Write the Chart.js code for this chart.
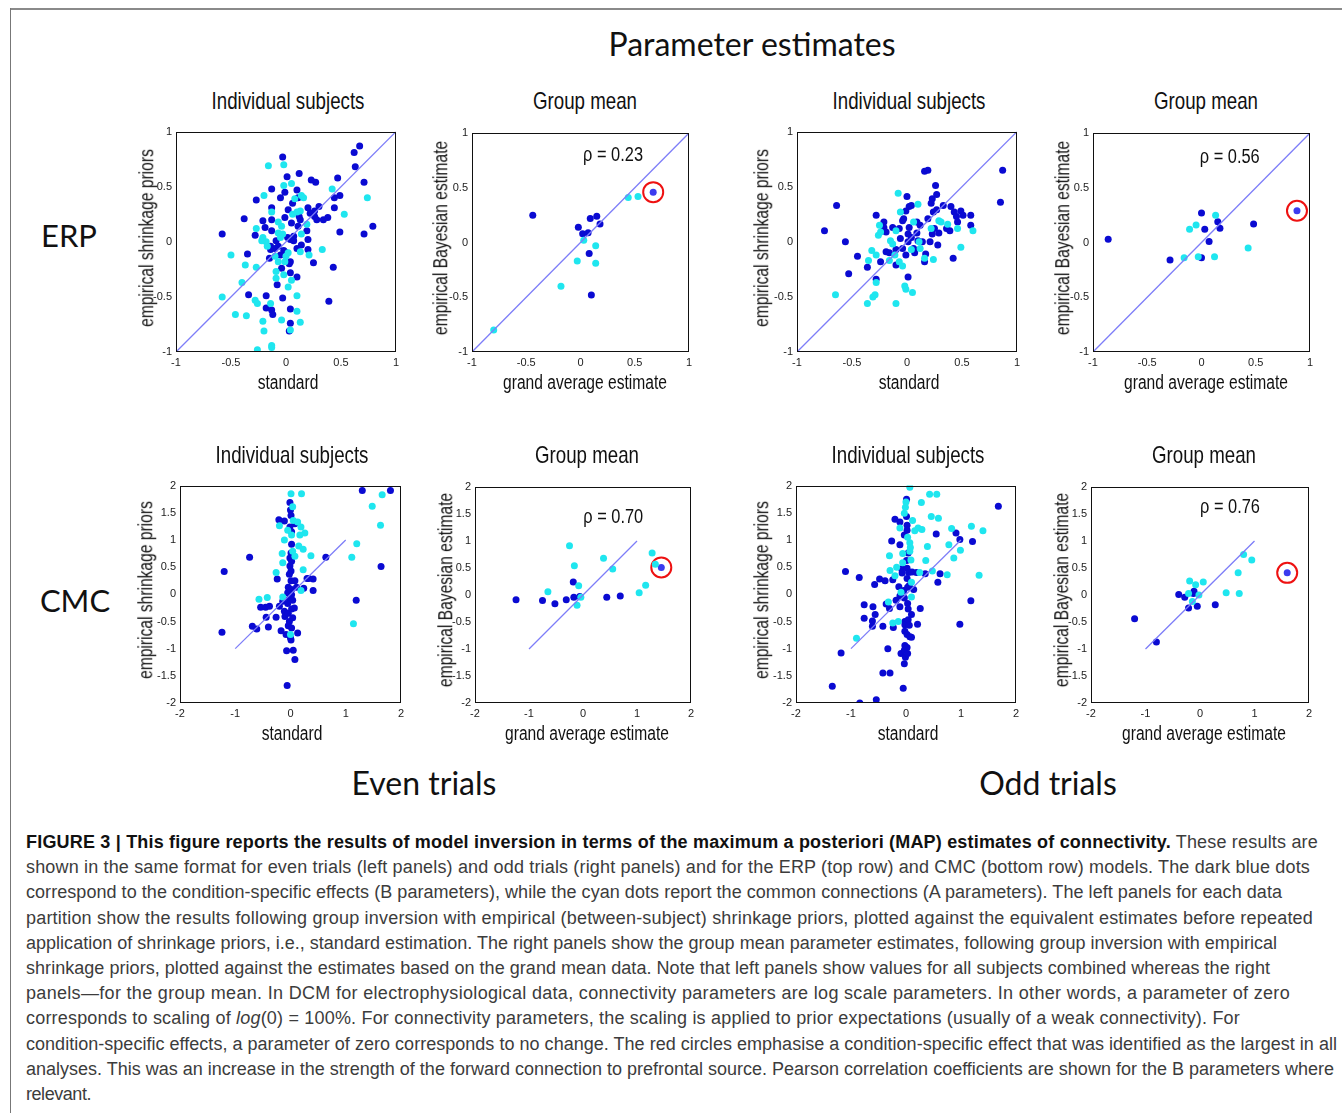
<!DOCTYPE html>
<html>
<head>
<meta charset="utf-8">
<title>Parameter estimates</title>
<script src="https://cdn.jsdelivr.net/npm/chart.js@4.4.1/dist/chart.umd.min.js"></script>
<style>
  html, body { margin: 0; padding: 0; background: #fff; }
  #fig { position: relative; width: 1342px; height: 1113px; overflow: hidden; }
  #fig canvas { position: absolute; }
  .frameTop { position: absolute; left: 10px; top: 8px; width: 1340px; height: 2px; background: #8a8a8a; }
  .frameLeft { position: absolute; left: 10px; top: 8px; width: 1px; height: 1110px; background: #777; }
  .big { position: absolute; font-family: Lato, "Open Sans", sans-serif; color: #111; white-space: nowrap; transform: translate(-50%, -50%); }
  .narrow { position: absolute; font-family: "Liberation Sans", Arial, sans-serif; color: #111; white-space: nowrap; line-height: 1; }
  #caption { position: absolute; left: 26px; top: 830px; font-family: "Liberation Sans", Arial, sans-serif; font-size: 18px; line-height: 25.2px; color: #3c3c3c; }
  #caption div { white-space: nowrap; width: max-content; }
  #caption b { color: #111; }
</style>
</head>
<body>
<div id="fig">
  <div class="frameTop"></div>
  <div class="frameLeft"></div>
</div>
<script>
// ---- data ----
// ERP, even trials, individual subjects: B (dark blue) and A (cyan) parameters
var erpEvenSubjB = [[-0.58,0.07],[-0.38,0.21],[-0.35,-0.11],[-0.27,0.38],[-0.28,0.06],[-0.34,-0.48],[-0.18,-0.60],[-0.18,-0.49],
  [-0.21,0.19],[-0.19,0.13],[-0.13,0.48],[-0.13,0.31],[-0.13,0.20],[-0.13,0.10],[-0.14,-0.07],[-0.15,-0.15],[-0.13,-0.62],
  [-0.12,-0.66],[-0.08,-0.39],[-0.09,0.01],[-0.05,0.40],[-0.03,0.77],[-0.01,0.45],[0.01,0.59],[-0.04,-0.24],[-0.03,-0.51],
  [0.04,-0.61],[0.04,-0.74],[0.03,-0.81],[0.12,0.62],[0.10,0.47],[0.11,0.40],[0.02,0.29],[0.05,0.17],[0.015,0.04],[0.04,0.02],
  [0.07,0.05],[0.07,0.01],[0.06,0.35],[-0.01,-0.09],[-0.02,-0.08],[0.04,-0.18],[0.04,-0.28],[0.10,-0.32],[0.12,0.23],[0.13,0.20],
  [0.10,-0.06],[0.19,0.10],[0.20,0.02],[0.20,-0.07],[0.25,-0.19],[0.23,0.56],[0.27,0.54],[0.20,0.31],[0.22,0.26],[0.26,0.23],
  [0.28,0.20],[0.26,0.28],[0.30,0.32],[0.34,0.20],[0.38,0.22],[0.39,-0.54],[0.43,-0.23],[0.44,0.40],[0.44,0.31],[0.47,0.58],
  [0.49,0.42],[0.49,0.09],[0.62,0.81],[0.63,0.68],[0.67,0.87],[0.71,0.54],[0.71,0.07],[0.79,0.14],[-0.05,-0.12],[-0.07,-0.04],
  [-0.10,-0.06],[-0.14,-0.04],[0.11,0.14],[0.14,-0.03],[-0.01,0.22],[0.03,-0.20]];
var erpEvenSubjA = [[-0.16,0.69],[-0.02,0.70],[-0.02,0.51],[0.05,0.53],[-0.20,0.42],[-0.27,0.12],[-0.50,-0.12],[-0.37,-0.21],
  [-0.27,-0.23],[-0.40,-0.37],[-0.58,-0.50],[-0.46,-0.66],[-0.36,-0.67],[-0.28,-0.53],[-0.26,-0.56],[-0.21,-0.72],[-0.20,-0.81],
  [-0.26,-0.98],[-0.13,-0.94],[-0.13,-0.96],[-0.14,-0.56],[-0.04,-0.71],[0.04,-0.80],[0.10,-0.63],[0.13,-0.73],[0.10,-0.49],
  [0.02,-0.41],[-0.09,-0.33],[-0.02,-0.30],[0.05,-0.35],[-0.07,-0.18],[-0.01,-0.18],[-0.09,-0.27],[0.13,-0.09],[0.21,-0.12],
  [0.33,-0.07],[-0.13,0.27],[-0.18,0.00],[-0.21,0.04],[-0.22,0.01],[-0.17,-0.04],[-0.07,0.18],[-0.04,0.14],[-0.07,0.08],
  [-0.03,0.07],[-0.05,0.04],[0.06,0.25],[0.08,0.39],[0.14,0.42],[0.16,0.40],[0.13,0.28],[0.10,0.27],[0.14,0.07],[0.19,0.16],
  [0.42,0.48],[0.53,0.25],[0.74,0.40],[0.00,-0.13],[0.02,-0.10],[-0.10,-0.13]];

// ERP, even trials, group mean
var erpEvenMeanB = [[-0.44,0.25],[-0.02,0.14],[0.02,0.08],[0.07,0.09],[0.09,0.22],[0.15,0.24],[0.18,0.17],[0.08,-0.10],[0.10,-0.48]];
var erpEvenMeanA = [[0.03,0.02],[0.14,-0.03],[0.14,-0.19],[-0.03,-0.17],[-0.18,-0.40],[-0.80,-0.80],[0.44,0.41],[0.53,0.42]];
var erpEvenMeanMarked = [[0.67,0.46]];

// ERP, odd trials, individual subjects
var erpOddSubjB = [[-0.75,0.10],[-0.64,0.33],[-0.56,0.00],[-0.53,-0.29],[-0.45,-0.13],[-0.28,0.24],[-0.36,-0.23],[-0.28,-0.34],
  [-0.21,0.18],[-0.21,0.13],[-0.24,-0.18],[-0.19,0.09],[-0.19,-0.09],[-0.13,0.13],[-0.10,-0.07],[-0.10,-0.21],[-0.06,0.03],
  [-0.04,0.19],[-0.03,0.21],[0.00,0.41],[-0.01,0.28],[0.02,0.32],[0.04,0.33],[0.02,0.13],[0.01,0.07],[0.04,0.04],[0.01,0.00],
  [-0.01,-0.12],[0.01,-0.32],[0.06,-0.06],[0.09,0.08],[0.10,0.01],[0.12,0.15],[0.14,0.00],[0.16,0.64],[0.19,0.65],[0.16,-0.18],
  [0.17,-0.11],[0.19,0.21],[0.22,0.35],[0.23,0.39],[0.24,0.27],[0.25,0.12],[0.26,0.51],[0.27,0.43],[0.27,0.29],[0.28,-0.03],
  [0.29,0.08],[0.23,0.07],[0.21,0.00],[0.33,0.33],[0.36,0.12],[0.39,0.10],[0.40,0.32],[0.42,-0.15],[0.43,0.27],[0.45,0.23],
  [0.46,0.18],[0.49,0.28],[0.51,0.24],[0.58,0.24],[0.58,0.15],[0.87,0.65],[0.85,0.36],[-0.07,0.12],[-0.04,-0.06],[-0.16,-0.10],
  [0.07,-0.10],[0.09,0.18]];
var erpOddSubjA = [[-0.08,0.44],[-0.06,0.27],[0.10,0.34],[-0.65,-0.48],[-0.36,-0.56],[-0.31,-0.50],[-0.29,-0.48],[-0.28,-0.37],
  [-0.10,-0.56],[-0.02,-0.40],[-0.01,-0.43],[0.05,-0.46],[-0.35,-0.17],[-0.32,-0.08],[-0.28,-0.12],[-0.26,0.06],[-0.25,0.15],
  [-0.24,0.09],[-0.16,-0.17],[-0.13,-0.02],[-0.11,-0.12],[-0.07,-0.18],[-0.04,-0.22],[0.04,-0.07],[0.06,0.18],[0.16,-0.15],
  [0.24,-0.16],[0.22,0.12],[0.29,0.19],[0.31,0.18],[0.37,0.16],[0.46,0.12],[0.49,-0.05],[0.60,0.10],[-0.15,0.01],[-0.10,0.10],
  [0.12,-0.06],[0.11,0.00]];

// ERP, odd trials, group mean
var erpOddMeanB = [[-0.86,0.03],[-0.29,-0.16],[0.00,-0.14],[0.00,0.27],[0.03,0.12],[0.07,0.01],[0.15,0.19],[0.17,0.13],[0.48,0.17]];
var erpOddMeanA = [[-0.11,0.12],[-0.05,0.16],[-0.16,-0.14],[-0.03,-0.13],[0.13,0.25],[0.12,-0.13],[0.43,-0.05]];
var erpOddMeanMarked = [[0.88,0.29]];

// CMC, even trials, individual subjects
var cmcEvenSubjB = [[-1.20,0.42],[-1.24,-0.70],[-0.74,0.68],[-0.69,-0.59],[-0.61,-0.64],[-0.54,-0.24],[-0.45,-0.24],[-0.38,-0.22],
  [-0.44,-0.42],[-0.40,-0.60],[-0.24,0.28],[-0.26,-0.42],[-0.20,-0.22],[-0.17,-0.67],[-0.21,1.37],[-0.11,1.35],[-0.14,-0.13],
  [-0.11,-0.31],[-0.10,-0.41],[-0.08,-0.74],[-0.07,-1.04],[-0.06,-1.68],[-0.01,1.69],[0.00,1.55],[0.01,1.45],[-0.01,1.24],
  [0.02,1.15],[0.02,0.92],[0.01,0.76],[-0.01,0.67],[0.02,0.61],[-0.01,0.52],[0.01,0.43],[-0.02,0.37],[0.01,0.25],[-0.04,0.13],
  [0.02,0.09],[-0.05,0.03],[0.02,-0.01],[-0.02,-0.08],[0.04,-0.11],[-0.05,-0.17],[0.02,-0.27],[-0.04,-0.35],[0.04,-0.43],
  [-0.02,-0.50],[-0.04,-0.58],[0.02,-0.62],[0.00,-0.80],[0.01,-0.84],[0.05,-1.03],[0.08,-1.20],[0.08,1.30],[0.08,0.25],
  [0.11,0.13],[0.13,-0.71],[0.07,-0.25],[0.24,0.11],[0.30,0.29],[0.33,0.29],[0.41,0.28],[0.41,0.07],[0.64,0.68],[1.19,-0.11],
  [1.30,1.91],[1.64,0.51],[1.81,1.91]];
var cmcEvenSubjA = [[-0.57,-0.09],[-0.42,-0.06],[-0.26,0.40],[-0.20,1.26],[-0.15,0.75],[-0.14,0.58],[-0.14,-0.05],[-0.11,1.00],
  [-0.05,1.18],[0.01,1.85],[0.04,1.61],[0.05,1.36],[0.02,1.09],[0.04,0.79],[0.00,-0.74],[0.20,1.85],[0.13,1.33],[0.19,1.24],
  [0.26,1.13],[0.17,1.09],[0.15,0.89],[0.23,0.83],[0.37,0.71],[0.23,0.45],[0.19,0.07],[0.08,0.70],[1.11,0.68],[1.20,0.93],
  [1.14,-0.54],[1.48,1.62],[1.66,1.83],[1.63,1.27]];

// CMC, even trials, group mean
var cmcEvenMeanB = [[-1.24,-0.09],[-0.75,-0.10],[-0.52,-0.16],[-0.31,-0.09],[-0.18,0.24],[-0.17,-0.04],[-0.06,-0.03],[0.44,-0.04],[0.69,-0.02]];
var cmcEvenMeanA = [[-0.25,0.91],[-0.16,0.54],[-0.65,0.06],[-0.08,0.17],[-0.04,-0.04],[-0.11,-0.19],[0.38,0.68],[0.55,0.48],
  [1.04,0.04],[1.16,0.18],[1.28,0.78],[1.34,0.57]];
var cmcEvenMeanMarked = [[1.45,0.51]];

// CMC, odd trials, individual subjects
var cmcOddSubjB = [[-1.34,-1.69],[-1.18,-1.08],[-1.10,0.42],[-0.85,0.31],[-0.84,-2.00],[-0.76,-0.19],[-0.76,-0.44],[-0.61,-0.49],
  [-0.61,-0.59],[-0.60,-0.23],[-0.57,0.18],[-0.56,-0.37],[-0.54,-1.94],[-0.48,0.28],[-0.38,0.25],[-0.42,-0.59],[-0.42,-1.45],
  [-0.36,-0.18],[-0.30,-0.26],[-0.33,-1.00],[-0.29,-1.45],[-0.26,0.98],[-0.24,0.27],[-0.23,-0.61],[-0.20,1.38],[-0.18,-0.11],
  [-0.13,0.14],[-0.11,1.33],[-0.11,0.91],[-0.11,-0.03],[-0.11,-0.23],[-0.09,-1.09],[-0.08,0.47],[-0.07,0.39],[-0.05,-1.73],
  [-0.04,0.07],[-0.03,-0.07],[-0.03,1.09],[-0.02,-0.50],[-0.02,-0.56],[-0.02,-0.68],[-0.02,-0.94],[-0.03,-1.03],[-0.03,-1.28],
  [-0.01,-1.16],[0.01,1.75],[0.01,1.43],[0.02,1.27],[0.02,1.18],[0.01,0.62],[0.02,0.48],[0.02,0.29],[0.03,0.13],[0.03,-0.17],
  [0.04,-0.27],[0.04,-0.47],[0.02,-0.74],[0.02,-0.98],[0.03,-1.09],[0.04,0.76],[0.05,0.40],[0.06,0.16],[0.06,-0.57],[0.07,-0.78],
  [0.10,-0.37],[0.10,-0.79],[0.11,0.41],[0.14,0.09],[0.19,0.40],[0.21,-0.55],[0.26,-0.26],[0.35,0.38],[0.55,1.11],[0.58,0.22],
  [0.62,0.38],[0.91,1.13],[0.98,1.01],[0.98,-0.55],[1.18,-0.12],[1.21,0.97],[1.68,1.62]];
var cmcOddSubjA = [[-0.90,-0.81],[-0.30,0.71],[-0.29,0.44],[-0.24,-0.53],[-0.32,-0.14],[-0.20,0.34],[-0.17,0.50],[-0.14,-0.50],
  [-0.11,1.22],[-0.09,0.04],[-0.06,0.75],[-0.06,0.58],[-0.03,1.49],[-0.01,1.60],[0.00,1.70],[0.03,1.05],[0.07,1.97],[0.07,0.95],
  [0.07,0.79],[0.09,0.63],[0.10,0.22],[0.10,-0.05],[0.08,0.86],[0.12,1.36],[0.16,1.17],[0.22,1.22],[0.25,0.40],[0.28,1.69],
  [0.29,1.19],[0.36,0.62],[0.39,0.88],[0.43,1.84],[0.46,1.43],[0.48,0.43],[0.56,1.84],[0.59,1.40],[0.75,0.36],[0.78,0.91],
  [0.83,1.21],[0.87,0.67],[0.99,0.81],[1.19,1.25],[1.33,0.35],[1.40,1.17]];

// CMC, odd trials, group mean
var cmcOddMeanB = [[-1.20,-0.44],[-0.80,-0.87],[-0.39,0.01],[-0.28,-0.04],[-0.21,-0.24],[-0.12,0.03],[-0.11,0.07],[-0.05,-0.21],[0.28,-0.18]];
var cmcOddMeanA = [[-0.19,0.26],[-0.21,0.03],[-0.08,0.19],[0.06,0.24],[-0.02,0.00],[-0.14,-0.12],[0.48,0.04],[0.70,0.41],
  [0.72,0.03],[0.80,0.75],[0.95,0.65]];
var cmcOddMeanMarked = [[1.60,0.41]];

var identityLine = [[-1,-1],[1,1]];
var erpTicks = [-1, -0.5, 0, 0.5, 1];
var cmcXTicks = [-2, -1, 0, 1, 2];
var cmcYTicks = [-2, -1.5, -1, -0.5, 0, 0.5, 1, 1.5, 2];
var rhoLabels = ['ρ = 0.23', 'ρ = 0.56', 'ρ = 0.70', 'ρ = 0.76'];

// ---- colours / fonts ----
var DARK = '#0a0ad2', CYAN = '#1fe6ef', MARKED = '#3b3bef', DIAG = 'rgb(125,125,248)';
var SANS = '"Liberation Sans", Arial, sans-serif';
var SQUEEZE = 0.8;   // Arial Narrow look, obtained by squeezing Liberation Sans

// ---- layout: plot box in page pixels ----
var panels = [
  { L:176, T:127, R:399, B:352, lim:1, xt:erpTicks, yt:erpTicks, b:erpEvenSubjB, a:erpEvenSubjA, yGap:29, title:'Individual subjects', xTitle:'standard', yTitle:'empirical shrinkage priors' },
  { L:472, T:127, R:697, B:352, lim:1, xt:erpTicks, yt:erpTicks, b:erpEvenMeanB, a:erpEvenMeanA, m:erpEvenMeanMarked, yGap:31, title:'Group mean', xTitle:'grand average estimate', yTitle:'empirical Bayesian estimate', rho:0, rx:0.30, ry:0.80 },
  { L:797, T:127, R:1020, B:352, lim:1, xt:erpTicks, yt:erpTicks, b:erpOddSubjB, a:erpOddSubjA, yGap:35, title:'Individual subjects', xTitle:'standard', yTitle:'empirical shrinkage priors' },
  { L:1093, T:127, R:1318, B:352, lim:1, xt:erpTicks, yt:erpTicks, b:erpOddMeanB, a:erpOddMeanA, m:erpOddMeanMarked, yGap:30, title:'Group mean', xTitle:'grand average estimate', yTitle:'empirical Bayesian estimate', rho:1, rx:0.26, ry:0.78 },
  { L:180, T:481, R:404, B:703, lim:2, xt:cmcXTicks, yt:cmcYTicks, b:cmcEvenSubjB, a:cmcEvenSubjA, yGap:34, title:'Individual subjects', xTitle:'standard', yTitle:'empirical shrinkage priors' },
  { L:475, T:481, R:699, B:703, lim:2, xt:cmcXTicks, yt:cmcYTicks, b:cmcEvenMeanB, a:cmcEvenMeanA, m:cmcEvenMeanMarked, yGap:29, title:'Group mean', xTitle:'grand average estimate', yTitle:'empirical Bayesian estimate', rho:2, rx:0.56, ry:1.43 },
  { L:796, T:481, R:1019, B:703, lim:2, xt:cmcXTicks, yt:cmcYTicks, b:cmcOddSubjB, a:cmcOddSubjA, yGap:34, title:'Individual subjects', xTitle:'standard', yTitle:'empirical shrinkage priors' },
  { L:1091, T:481, R:1317, B:703, lim:2, xt:cmcXTicks, yt:cmcYTicks, b:cmcOddMeanB, a:cmcOddMeanA, m:cmcOddMeanMarked, yGap:29, title:'Group mean', xTitle:'grand average estimate', yTitle:'empirical Bayesian estimate', rho:3, rx:0.55, ry:1.63 }
];

// right edge of each caption line in the reference
var captionEnds = [1318, 1310, 1282, 1313, 1277, 1270, 1290, 1240, 1337, 1334, 91];

var PADL = 40, PADT = 6, PADR = 4, PADB = 20;

function pts(arr) { return arr.map(function (p) { return { x: p[0], y: p[1] }; }); }

// box round the axes + the rho annotation
var framePlugin = {
  id: 'frame',
  afterDraw: function (chart, args, opts) {
    var ctx = chart.ctx, a = chart.chartArea;
    ctx.save();
    ctx.strokeStyle = '#111';
    ctx.lineWidth = 1;
    ctx.strokeRect(Math.round(a.left) + 0.5, Math.round(a.top) + 0.5, Math.round(a.right - a.left) - 1, Math.round(a.bottom - a.top) - 1);
    if (opts.text) {
      ctx.fillStyle = '#111';
      ctx.font = '20.5px ' + SANS;
      ctx.textAlign = 'center';
      ctx.textBaseline = 'middle';
      ctx.translate(chart.scales.x.getPixelForValue(opts.x), chart.scales.y.getPixelForValue(opts.y));
      ctx.scale(SQUEEZE, 1);
      ctx.fillText(opts.text, 0, 0);
    }
    ctx.restore();
  }
};

function axis(lim, ticks, isY) {
  return {
    type: 'linear', min: -lim, max: lim,
    grid: { display: false, drawTicks: false },
    border: { display: false },
    afterBuildTicks: function (s) { s.ticks = ticks.map(function (v) { return { value: v }; }); },
    afterFit: function (s) { if (isY) { s.width = PADL; } else { s.height = PADB; } },
    ticks: { color: '#222', font: { family: SANS, size: 11 }, padding: 4, maxRotation: 0, autoSkip: false,
             callback: function (v) { return String(v); } },
    title: { display: false }
  };
}

function narrowText(text, x, y, size, rotate) {
  var d = document.createElement('div');
  d.className = 'narrow';
  d.textContent = text;
  d.style.left = x + 'px'; d.style.top = y + 'px';
  d.style.fontSize = size + 'px';
  d.style.transform = 'translate(-50%, -50%)' + (rotate ? ' rotate(-90deg)' : '') + ' scaleX(' + SQUEEZE + ')';
  document.getElementById('fig').appendChild(d);
}

function makePanel(p) {
  var fig = document.getElementById('fig');
  var w = (p.R - p.L) + PADL + PADR, h = (p.B - p.T) + PADT + PADB;
  var c = document.createElement('canvas');
  c.width = w; c.height = h;
  c.style.left = (p.L - PADL) + 'px';
  c.style.top = (p.T - PADT) + 'px';
  c.style.width = w + 'px'; c.style.height = h + 'px';
  fig.appendChild(c);

  var cx = (p.L + p.R) / 2, cy = (p.T + p.B) / 2;
  narrowText(p.title, cx, p.T - 25, 23.4, false);
  narrowText(p.xTitle, cx, p.B + 31, 19.5, false);
  narrowText(p.yTitle, p.L - p.yGap, cy - 2, 19.5, true);

  var datasets = [
    { data: pts(identityLine), showLine: true, borderColor: DIAG, borderWidth: 1.3, pointRadius: 0 },
    { data: pts(p.a), backgroundColor: CYAN, borderWidth: 0, pointRadius: 3.5 },
    { data: pts(p.b), backgroundColor: DARK, borderWidth: 0, pointRadius: 3.5 }
  ];
  if (p.m) {
    datasets.push({ data: pts(p.m), backgroundColor: MARKED, borderWidth: 0, pointRadius: 3.5 });
    datasets.push({ data: pts(p.m), backgroundColor: 'rgba(0,0,0,0)', borderColor: '#ee1111', borderWidth: 2, pointRadius: 10 });
  }

  new Chart(c, {
    type: 'scatter',
    data: { datasets: datasets },
    options: {
      responsive: false, animation: false, devicePixelRatio: 1,
      layout: { padding: { left: 0, top: PADT, right: PADR, bottom: 0 } },
      plugins: {
        legend: { display: false }, tooltip: { enabled: false },
        frame: p.rho !== undefined ? { text: rhoLabels[p.rho], x: p.rx, y: p.ry } : {}
      },
      scales: { x: axis(p.lim, p.xt, false), y: axis(p.lim, p.yt, true) }
    },
    plugins: [framePlugin]
  });
}

function label(text, x, y, size) {
  var d = document.createElement('div');
  d.className = 'big';
  d.textContent = text;
  d.style.left = x + 'px'; d.style.top = y + 'px';
  d.style.fontSize = size + 'px';
  document.getElementById('fig').appendChild(d);
}

document.addEventListener('DOMContentLoaded', function () {
  label('Parameter estimates', 752, 43, 32);
  label('ERP', 69, 235, 31);
  label('CMC', 75, 600, 31);
  label('Even trials', 424, 782, 32);
  label('Odd trials', 1048, 782, 32);
  panels.forEach(makePanel);

  var cap = document.createElement('div');
  cap.id = 'caption';
  cap.innerHTML =
    '<div><b>FIGURE 3 | This figure reports the results of model inversion in terms of the maximum a posteriori (MAP) estimates of connectivity.</b> These results are</div>' +
    '<div>shown in the same format for even trials (left panels) and odd trials (right panels) and for the ERP (top row) and CMC (bottom row) models. The dark blue dots</div>' +
    '<div>correspond to the condition-specific effects (B parameters), while the cyan dots report the common connections (A parameters). The left panels for each data</div>' +
    '<div>partition show the results following group inversion with empirical (between-subject) shrinkage priors, plotted against the equivalent estimates before repeated</div>' +
    '<div>application of shrinkage priors, i.e., standard estimation. The right panels show the group mean parameter estimates, following group inversion with empirical</div>' +
    '<div>shrinkage priors, plotted against the estimates based on the grand mean data. Note that left panels show values for all subjects combined whereas the right</div>' +
    '<div>panels\u2014for the group mean. In DCM for electrophysiological data, connectivity parameters are log scale parameters. In other words, a parameter of zero</div>' +
    '<div>corresponds to scaling of <i>log</i>(0) = 100%. For connectivity parameters, the scaling is applied to prior expectations (usually of a weak connectivity). For</div>' +
    '<div>condition-specific effects, a parameter of zero corresponds to no change. The red circles emphasise a condition-specific effect that was identified as the largest in all</div>' +
    '<div>analyses. This was an increase in the strength of the forward connection to prefrontal source. Pearson correlation coefficients are shown for the B parameters where</div>' +
    '<div>relevant.</div>';
  document.getElementById('fig').appendChild(cap);

  // stretch or squeeze each caption line so it ends where the reference line ends
  Array.prototype.forEach.call(cap.children, function (line, i) {
    var w = line.getBoundingClientRect().width;
    var n = line.textContent.length;
    line.style.letterSpacing = ((captionEnds[i] - 26 - w) / n) + 'px';
  });
});
</script>
</body>
</html>
